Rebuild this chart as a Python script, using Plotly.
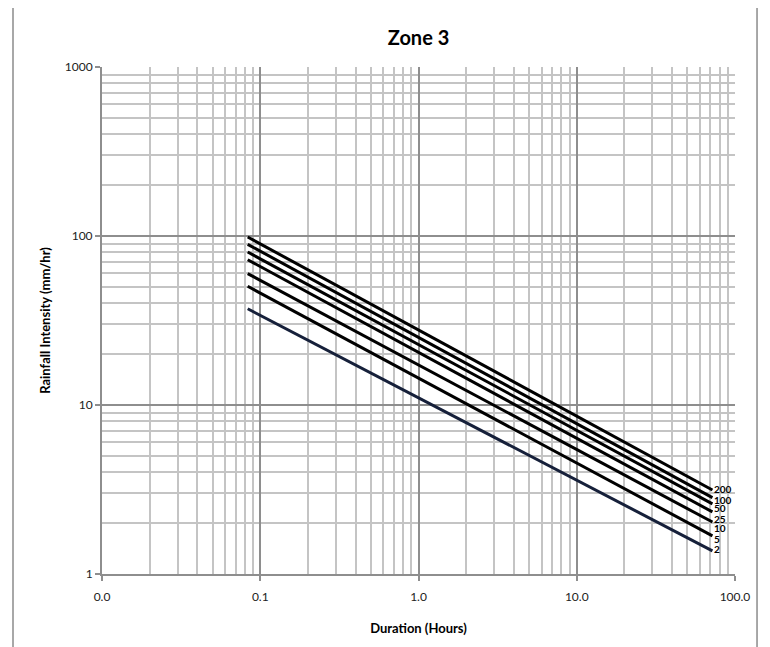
import math
import plotly.graph_objects as go

# Data
durations = [0.0833, 72.0]  # hours (5 min to 72 h)
return_periods = ["2", "5", "10", "25", "50", "100", "200"]
intensity_start = [37.1, 50.4, 59.9, 72.4, 80.4, 89.3, 98.6]
intensity_end = [1.37, 1.68, 2.03, 2.33, 2.60, 2.83, 3.14]
line_colors = ["#16203a", "#000000", "#000000", "#000000", "#000000", "#000000", "#000000"]
label_yshift = [2, -3, -6, -7, -4, -2, 1]  # label nudges (px) as placed in the reference

x_major = [0.01, 0.1, 1, 10, 100]
x_major_text = ["0.0", "0.1", "1.0", "10.0", "100.0"]
y_major = [1, 10, 100, 1000]
y_major_text = ["1", "10", "100", "1000"]

x_minor = [m * d for d in [0.01, 0.1, 1, 10] for m in range(2, 10)]
y_minor = [m * d for d in [1, 10, 100] for m in range(2, 10)]

FONT = "Lato"
fig = go.Figure()
for rp, s, e, c in zip(return_periods, intensity_start, intensity_end, line_colors):
    fig.add_trace(go.Scatter(
        x=durations, y=[s, e], mode="lines",
        line=dict(color=c, width=3),
        showlegend=False, name=rp,
    ))

# annotations on log axes take log10 coordinates
annotations = []
for rp, e, ys in zip(return_periods, intensity_end, label_yshift):
    annotations.append(dict(
        x=math.log10(durations[-1]), y=math.log10(e), xref="x", yref="y",
        text="<b>" + rp + "</b>",
        showarrow=False, xanchor="left", yanchor="middle", xshift=0, yshift=ys,
        font=dict(family="Liberation Sans Narrow, Lato", size=10, color="#000000"),
    ))

grid_minor = "#c4c4c4"
grid_major = "#8e8e8e"
fig.update_layout(
    width=762, height=639,
    margin=dict(l=94, r=35, t=59, b=73),
    paper_bgcolor="white", plot_bgcolor="white",
    title=dict(text="<b>Zone 3</b>", x=0.5, xref="paper", y=1 - 30 / 639, yanchor="middle",
               font=dict(family=FONT, size=20, color="#000000")),
    annotations=annotations,
    xaxis=dict(
        type="log", range=[-2, 2],
        tickvals=x_major, ticktext=x_major_text,
        showgrid=True, gridcolor=grid_major, gridwidth=2,
        ticks="outside", ticklen=5, tickcolor=grid_major, tickwidth=1.5,
        ticklabelstandoff=6,
        showline=True, linecolor=grid_major, linewidth=2, mirror=False,
        zeroline=False,
        minor=dict(tickvals=x_minor, showgrid=True, gridcolor=grid_minor, gridwidth=2, ticks=""),
        tickfont=dict(family=FONT, size=12, color="#222222"),
        title=dict(text="<b>Duration (Hours)</b>", standoff=20,
                   font=dict(family=FONT, size=13, color="#000000")),
    ),
    yaxis=dict(
        type="log", range=[0, 3],
        tickvals=y_major, ticktext=y_major_text,
        showgrid=True, gridcolor=grid_major, gridwidth=2,
        ticks="outside", ticklen=5, tickcolor=grid_major, tickwidth=1.5,
        showline=True, linecolor=grid_major, linewidth=2,
        zeroline=False,
        minor=dict(tickvals=y_minor, showgrid=True, gridcolor=grid_minor, gridwidth=2, ticks=""),
        tickfont=dict(family=FONT, size=12, color="#222222"),
        title=dict(text="<b>Rainfall Intensity (mm/hr)</b>", standoff=11,
                   font=dict(family=FONT, size=13, color="#000000")),
    ),
    shapes=[dict(type="rect", xref="paper", yref="paper",
                 x0=-0.1406, x1=1.0348, y0=-0.2, y1=1.1223,
                 line=dict(color="#8c8c8c", width=1.5), layer="below")],
)

fig.write_html("out.html")
